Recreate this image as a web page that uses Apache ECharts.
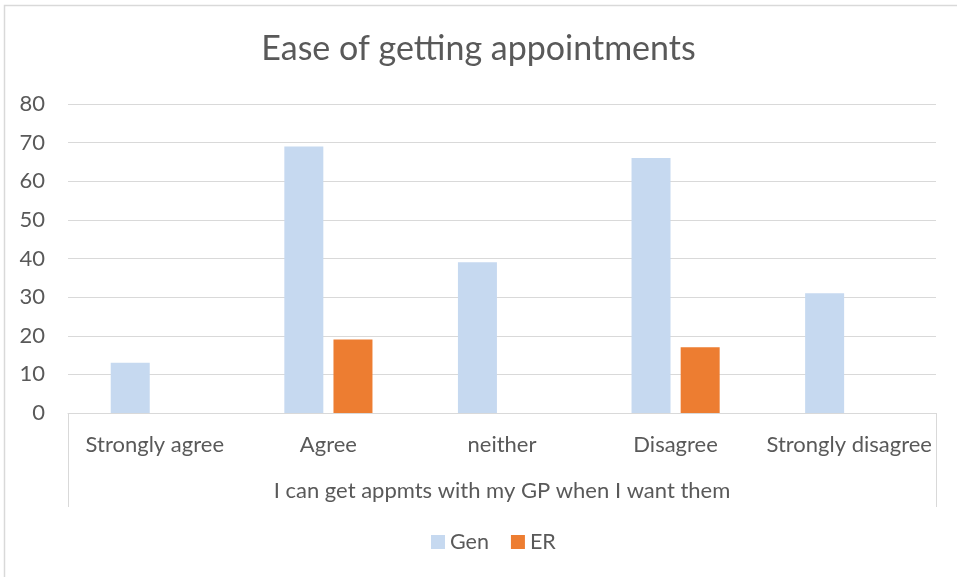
<!DOCTYPE html>
<html>
<head>
<meta charset="utf-8">
<script src="https://cdn.jsdelivr.net/npm/echarts@6/dist/echarts.min.js"></script>
<style>
html,body{margin:0;padding:0;background:#fff;}
#c{width:957px;height:577px;}
</style>
</head>
<body>
<div id="c"></div>
<script>
const titleText = "Ease of getting appointments";
const categories = ["Strongly agree", "Agree", "neither", "Disagree", "Strongly disagree"];
const groupLabel = ["I can get appmts with my GP when I want them"];
const genValues = [13, 69, 39, 66, 31];
const erValues = [null, 19, null, 17, null];
const seriesNames = ["Gen", "ER"];
const yTicks = {min: 0, max: 80, interval: 10};

const FONT = "Lato";
const TXT = "#595959";
const chart = echarts.init(document.getElementById('c'), null, {renderer: 'canvas'});
chart.setOption({
  backgroundColor: '#fff',
  animation: false,
  title: {
    text: titleText, left: 'center', top: 27,
    textStyle: {fontFamily: FONT, fontSize: 34, fontWeight: 'normal', color: TXT}
  },
  legend: {
    data: seriesNames, bottom: 19, left: 426,
    itemWidth: 14, itemHeight: 14, itemGap: 22,
    icon: 'rect',
    textStyle: {fontFamily: FONT, fontSize: 21.5, color: TXT}
  },
  grid: {left: 68, right: 21, top: 104, bottom: 164, containLabel: false},
  xAxis: [{
    type: 'category', data: categories, position: 'bottom',
    axisLine: {show: true, lineStyle: {color: '#d9d9d9', width: 1}},
    axisTick: {show: false},
    axisLabel: {fontFamily: FONT, fontSize: 22, color: TXT, margin: 21, interval: 0}
  }, {
    type: 'category', data: groupLabel, position: 'bottom',
    axisLine: {show: false},
    axisTick: {show: true, length: 94, inside: false, lineStyle: {color: '#d9d9d9', width: 1}},
    axisLabel: {fontFamily: FONT, fontSize: 22, color: TXT, margin: 67}
  }],
  yAxis: {
    type: 'value', min: yTicks.min, max: yTicks.max, interval: yTicks.interval,
    axisLine: {show: false}, axisTick: {show: false},
    splitLine: {lineStyle: {color: '#d9d9d9', width: 1}},
    axisLabel: {fontFamily: FONT, fontSize: 22, color: TXT, margin: 23}
  },
  series: [{
    name: seriesNames[0], type: 'bar', data: genValues, xAxisIndex: 0,
    itemStyle: {color: '#C6D9F0'}, barWidth: 39, barGap: '26%'
  }, {
    name: seriesNames[1], type: 'bar', data: erValues, xAxisIndex: 0,
    itemStyle: {color: '#ED7D31'}, barWidth: 39, barGap: '26%'
  }],
  graphic: [{
    type: 'polyline', silent: true,
    shape: {points: [[4.5, 577], [4.5, 5.5], [957, 5.5]]},
    style: {stroke: '#d9d9d9', lineWidth: 1.5, fill: null}
  }]
});
</script>
</body>
</html>
